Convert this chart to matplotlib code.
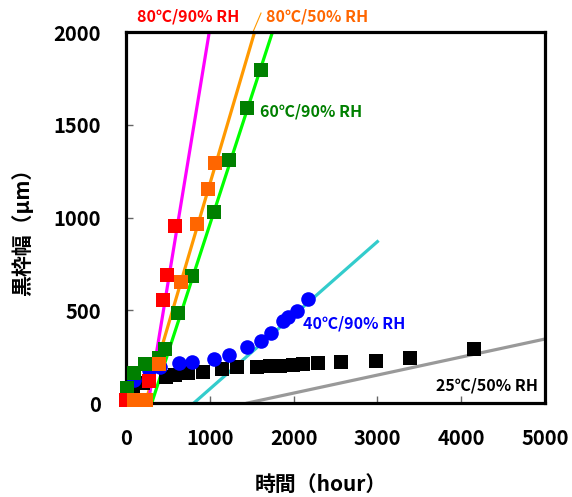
#!/usr/bin/env python3

import matplotlib
matplotlib.use('Agg')
import matplotlib.pyplot as plt

matplotlib.rcParams['font.family'] = ['Noto Sans CJK JP', 'DejaVu Sans']
matplotlib.rcParams['font.weight'] = 'bold'

# 25C/50%RH
black_x = [80, 200, 480, 580, 740, 920, 1150, 1330, 1560, 1720, 1840, 1990, 2110,
           2290, 2560, 2980, 3390, 4150]
black_y = [85, 110, 140, 150, 162, 168, 183, 193, 195, 200, 200, 205, 210,
           215, 220, 225, 240, 290]
# 40C/90%RH
blue_x = [90, 280, 400, 630, 790, 1050, 1230, 1440, 1610, 1730, 1875, 1935, 2040, 2170]
blue_y = [125, 180, 195, 215, 220, 235, 260, 300, 335, 375, 440, 465, 495, 560]
# 60C/90%RH
green_x = [10, 90, 230, 390, 460, 620, 790, 1050, 1230, 1445, 1610]
green_y = [80, 160, 210, 240, 290, 485, 685, 1030, 1310, 1590, 1795]
# 80C/90%RH
red_x = [0, 280, 440, 490, 585]
red_y = [15, 120, 555, 690, 955]
# 80C/50%RH
orange_x = [100, 170, 240, 395, 655, 850, 980, 1060]
orange_y = [15, 15, 15, 210, 650, 965, 1155, 1295]

# fitted lines (start/end points)
fit_8090_x, fit_8090_y = [265, 1030], [0, 2100]
fit_8050_x, fit_8050_y = [230, 1600], [0, 2100]
fit_6090_x, fit_6090_y = [307, 1820], [0, 2100]
fit_4090_x, fit_4090_y = [810, 3000], [0, 870]
fit_2550_x, fit_2550_y = [1450, 5000], [0, 345]

fig = plt.figure(figsize=(5.72, 4.97), dpi=100)
ax = fig.add_axes([0.2203, 0.1891, 0.7325, 0.7465])

ax.plot(fit_2550_x, fit_2550_y, color='#999999', lw=2.3, zorder=2)
ax.plot(fit_4090_x, fit_4090_y, color='#33CCCC', lw=2.3, zorder=2)
ax.plot(fit_6090_x, fit_6090_y, color='#00FF00', lw=2.3, zorder=2)
ax.plot(fit_8050_x, fit_8050_y, color='#FF9900', lw=2.3, zorder=2)
ax.plot(fit_8090_x, fit_8090_y, color='#FF00FF', lw=2.3, zorder=2)

ax.plot(black_x, black_y, 's', color='black', ms=9.5, mew=0, clip_on=False, zorder=3)
ax.plot(blue_x, blue_y, 'o', color='#0000FF', ms=10.5, mew=0, clip_on=False, zorder=4)
ax.plot(green_x, green_y, 's', color='#008000', ms=9.5, mew=0, clip_on=False, zorder=5)
ax.plot(red_x, red_y, 's', color='#FF0000', ms=9.5, mew=0, clip_on=False, zorder=6)
ax.plot(orange_x, orange_y, 's', color='#FF6600', ms=9.5, mew=0, clip_on=False, zorder=7)

fs = 11.5
ax.text(740, 2086, '80℃/90% RH', color='#FF0000', fontsize=fs, ha='center', va='center', clip_on=False)
ax.text(1671, 2086, '80℃/50% RH', color='#FF6600', fontsize=fs, ha='left', va='center', clip_on=False)
ax.plot([1515, 1611], [2000, 2102], color='#FF9900', lw=0.8, clip_on=False)
ax.text(1599, 1574, '60℃/90% RH', color='#008000', fontsize=fs, ha='left', va='center')
ax.text(2112, 426, '40℃/90% RH', color='#0000FF', fontsize=fs, ha='left', va='center')
ax.text(3699, 97, '25℃/50% RH', color='black', fontsize=fs, ha='left', va='center')

ax.set_xlim(0, 5000)
ax.set_ylim(0, 2000)
ax.set_xticks(range(0, 5001, 1000))
ax.set_yticks(range(0, 2001, 500))
ax.tick_params(direction='in', length=5, width=1, color='#666666',
               labelsize=14.5, pad=18, top=False, right=False)
for s in ax.spines.values():
    s.set_linewidth(2.3)

ax.set_xlabel('時間（hour）', fontsize=15, fontweight='bold')
ax.set_ylabel('黒枠幅（μm）', fontsize=15, fontweight='bold')
ax.xaxis.set_label_coords(0.465, -0.19)
ax.yaxis.set_label_coords(-0.222, 0.475)

plt.savefig('out.png', dpi=100)
